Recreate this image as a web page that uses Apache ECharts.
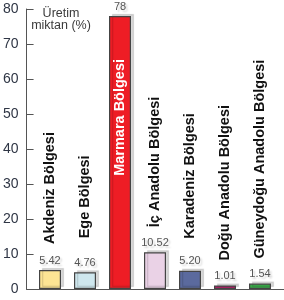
<!DOCTYPE html>
<html>
<head>
<meta charset="utf-8">
<script src="https://cdn.jsdelivr.net/npm/echarts@6/dist/echarts.min.js"></script>
<style>html,body{margin:0;padding:0;background:#fff;}#c{width:284px;height:300px;}</style>
</head>
<body>
<div id="c"></div>
<script>
const categories = ['Akdeniz Bölgesi','Ege Bölgesi','Marmara Bölgesi','İç Anadolu Bölgesi','Karadeniz Bölgesi','Doğu Anadolu Bölgesi','Güneydoğu Anadolu Bölgesi'];
const values = [5.42, 4.76, 78, 10.52, 5.20, 1.01, 1.54];
const valueLabels = ['5.42','4.76','78','10.52','5.20','1.01','1.54'];
const yTickLabels = ['0','10','20','30','40','50','60','70','80'];
const axisTitle = 'Üretim\nmiktan (%)';

const barColors = ['#fde594','#cfe7ee','#ee1d25','#ead2e6','#5b6a9e','#c8186f','#3aab4a'];
const nameGaps = [26, 34, 0, 25, 32, 25, 25];
const FONT = 'Liberation Sans, Arial, Helvetica, sans-serif';

const chart = echarts.init(document.getElementById('c'), null, {renderer:'canvas'});

const barData = values.map((v, i) => ({
  value: v,
  itemStyle: {color: barColors[i]}
}));
const nameData = values.map((v, i) => {
  const inside = i === 2;
  return {
    value: v,
    label: inside ? {
      position: 'insideTop', distance: 43, align: 'right', verticalAlign: 'middle', color: '#fff'
    } : {
      position: 'top', distance: nameGaps[i], align: 'left', verticalAlign: 'middle', color: '#111'
    }
  };
});

chart.setOption({
  animation: false,
  title: {
    text: axisTitle, left: 56, top: 2, textAlign: 'center',
    textStyle: {fontFamily: FONT, fontSize: 12.5, fontWeight: 'normal', color: '#3a3a3a', lineHeight: 12.5}
  },
  grid: [
    {left: 32.5, right: 6.5, top: 9, bottom: 11},
    {left: 25, right: 0, top: 9, bottom: 11}
  ],
  xAxis: [
    {type: 'category', gridIndex: 0, data: categories, show: false},
    {type: 'value', gridIndex: 1, min: 0, max: 1, axisLabel: {show: false}, axisTick: {show: false}, splitLine: {show: false},
     axisLine: {show: true, lineStyle: {color: '#555', width: 1}}}
  ],
  yAxis: [
    {type: 'value', gridIndex: 0, min: 0, max: 80, show: false},
    {type: 'value', gridIndex: 1, min: 0, max: 80, interval: 10, splitLine: {show: false},
     axisLine: {show: true, lineStyle: {color: '#555', width: 1}},
     axisTick: {show: true, inside: true, length: 7, lineStyle: {color: '#555'}},
     axisLabel: {fontFamily: FONT, fontSize: 14, color: '#2f3645', margin: 8,
       formatter: (v) => yTickLabels[Math.round(v / 10)]}}
  ],
  series: [
    {
      type: 'bar', xAxisIndex: 0, yAxisIndex: 0, barWidth: 22, data: barData,
      itemStyle: {borderColor: '#444', borderWidth: 1.2,
        shadowColor: 'rgba(0,0,0,0.15)', shadowBlur: 1, shadowOffsetX: 3, shadowOffsetY: -2},
      label: {show: true, position: 'top', distance: 4, fontFamily: FONT, fontSize: 11, color: '#555',
        textShadowColor: 'rgba(0,0,0,0.18)', textShadowBlur: 2, textShadowOffsetX: 2, textShadowOffsetY: 2,
        formatter: (p) => valueLabels[p.dataIndex]}
    },
    {
      type: 'bar', xAxisIndex: 0, yAxisIndex: 0, barWidth: 22, barGap: '-100%', data: nameData, silent: true,
      itemStyle: {color: 'rgba(0,0,0,0)', borderWidth: 0},
      label: {show: true, rotate: 90, fontFamily: FONT, fontSize: 14.5, fontWeight: 'bold',
        formatter: (p) => categories[p.dataIndex]}
    }
  ]
});
</script>
</body>
</html>
